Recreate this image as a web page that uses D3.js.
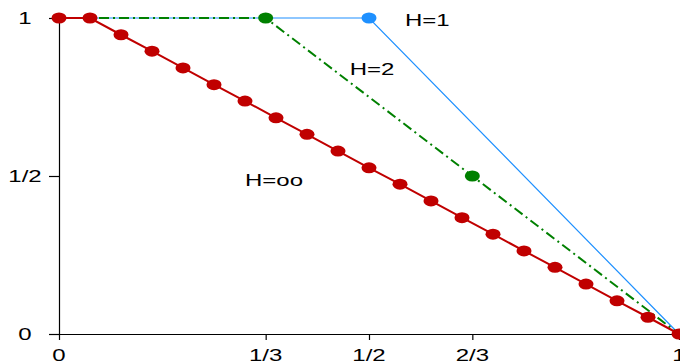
<!DOCTYPE html>
<html>
<head>
<meta charset="utf-8">
<script src="https://cdn.jsdelivr.net/npm/d3@7"></script>
<style>
  body { margin: 0; background: #fff; }
  text { font-family: "Liberation Sans", Arial, sans-serif; font-size: 16px; fill: #000; }
</style>
</head>
<body>
<div id="chart"></div>
<script>
// red curve (H=oo), points at k/20
var redX = [0, 0.05, 0.1, 0.15, 0.2, 0.25, 0.3, 0.35, 0.4, 0.45, 0.5, 0.55, 0.6, 0.65, 0.7, 0.75, 0.8, 0.85, 0.9, 0.95, 1];
var redY = [1, 1, 0.947, 0.895, 0.842, 0.789, 0.737, 0.684, 0.632, 0.579, 0.526, 0.474, 0.421, 0.368, 0.316, 0.263, 0.211, 0.158, 0.105, 0.053, 0];
// green (H=2)
var greenX = [0, 1/3, 2/3, 1];
var greenY = [1, 1, 0.5, 0];
var greenDots = [1, 2];
// blue (H=1)
var blueX = [0, 0.5, 1];
var blueY = [1, 1, 0];
var blueDots = [1];

var xTicks = [0, 1/3, 1/2, 2/3, 1];
var xTickLabels = ["0", "1/3", "1/2", "2/3", "1"];
var yTicks = [0, 0.5, 1];
var yTickLabels = ["0", "1/2", "1"];

var curveLabels = ["H=1", "H=2", "H=oo"];
var curveLabelPos = [[0.558, 0.975], [0.469, 0.82], [0.3, 0.467]];

var width = 680, height = 363;
var sx = 1.5; // text is drawn stretched horizontally

var svg = d3.select("#chart").append("svg")
    .attr("width", width)
    .attr("height", height);

var x = d3.scaleLinear().domain([0, 1]).range([59, 679]);
var y = d3.scaleLinear().domain([0, 1]).range([334, 18]);

// axes
svg.append("g")
    .attr("transform", "translate(0,334)")
    .call(d3.axisBottom(x).tickValues(xTicks).tickSize(6).tickSizeOuter(0).tickFormat(""))
    .call(g => g.selectAll("path, line").attr("stroke", "#000").attr("stroke-width", 1.2));

svg.append("g")
    .attr("transform", "translate(59,0)")
    .call(d3.axisLeft(y).tickValues(yTicks).tickSize(10).tickSizeOuter(0).tickFormat(""))
    .call(g => g.selectAll("path, line").attr("stroke", "#000").attr("stroke-width", 1.2));

// tick labels
svg.selectAll(".xlab")
    .data(xTicks)
    .join("text")
    .attr("class", "xlab")
    .attr("text-anchor", "middle")
    .attr("transform", d => "translate(" + x(d) + ",361) scale(" + sx + ",1)")
    .text((d, i) => xTickLabels[i]);

svg.selectAll(".ylab")
    .data(yTicks)
    .join("text")
    .attr("class", "ylab")
    .attr("text-anchor", "middle")
    .attr("transform", d => "translate(25," + (y(d) + 6) + ") scale(" + sx + ",1)")
    .text((d, i) => yTickLabels[i]);

var line = d3.line()
    .x(d => x(d[0]))
    .y(d => y(d[1]));

var blue = blueX.map((v, i) => [v, blueY[i]]);
var green = greenX.map((v, i) => [v, greenY[i]]);
var red = redX.map((v, i) => [v, redY[i]]);

svg.append("path")
    .datum(blue)
    .attr("d", line)
    .attr("fill", "none")
    .attr("stroke", "#1e90ff")
    .attr("stroke-width", 1.2);

svg.append("path")
    .datum(green)
    .attr("d", line)
    .attr("fill", "none")
    .attr("stroke", "#008000")
    .attr("stroke-width", 2)
    .attr("stroke-dasharray", "10,4,2,4");

svg.append("path")
    .datum(red)
    .attr("d", line)
    .attr("fill", "none")
    .attr("stroke", "#c00000")
    .attr("stroke-width", 2);

svg.selectAll(".bdot")
    .data(blueDots.map(i => blue[i]))
    .join("ellipse")
    .attr("class", "bdot")
    .attr("cx", d => x(d[0]))
    .attr("cy", d => y(d[1]))
    .attr("rx", 7.5).attr("ry", 5.5)
    .attr("fill", "#1e90ff");

svg.selectAll(".gdot")
    .data(greenDots.map(i => green[i]))
    .join("ellipse")
    .attr("class", "gdot")
    .attr("cx", d => x(d[0]))
    .attr("cy", d => y(d[1]))
    .attr("rx", 7.5).attr("ry", 5.5)
    .attr("fill", "#008000");

svg.selectAll(".rdot")
    .data(red)
    .join("ellipse")
    .attr("class", "rdot")
    .attr("cx", d => x(d[0]))
    .attr("cy", d => y(d[1]))
    .attr("rx", 7.5).attr("ry", 5.5)
    .attr("fill", "#c00000");

// curve labels
svg.selectAll(".clab")
    .data(curveLabels)
    .join("text")
    .attr("class", "clab")
    .attr("transform", (d, i) => "translate(" + x(curveLabelPos[i][0]) + "," + y(curveLabelPos[i][1]) + ") scale(" + sx + ",1)")
    .text(d => d);
</script>
</body>
</html>
